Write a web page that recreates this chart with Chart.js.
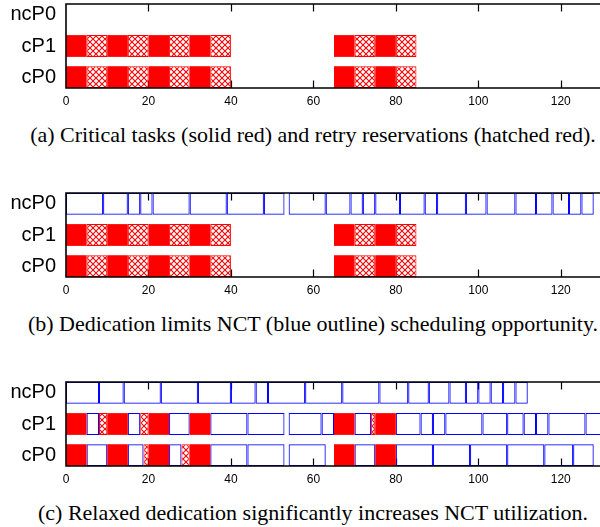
<!DOCTYPE html>
<html>
<head>
<meta charset="utf-8">
<script src="https://cdn.jsdelivr.net/npm/chart.js@4.4.1/dist/chart.umd.min.js"></script>
<style>
  html, body { margin: 0; padding: 0; background: #fff; overflow: hidden; width: 600px; height: 527px; }
  .panel { position: absolute; left: 0; width: 602px; height: 112px; }
  .cap { position: absolute; left: 0; width: 626px; text-align: center; font-family: 'Liberation Serif', 'Times New Roman', serif; font-size: 22px; line-height: 22px; color: #000; white-space: nowrap; }
</style>
</head>
<body>
<div class="panel" style="top:0px"><canvas id="ca"></canvas></div>
<div class="cap" style="top:124px">(a) Critical tasks (solid red) and retry reservations (hatched red).</div>
<div class="panel" style="top:189px"><canvas id="cb"></canvas></div>
<div class="cap" style="top:313px">(b) Dedication limits NCT (blue outline) scheduling opportunity.</div>
<div class="panel" style="top:378px"><canvas id="cc"></canvas></div>
<div class="cap" style="top:502px">(c) Relaxed dedication significantly increases NCT utilization.</div>
<script>
// ---- data ----
const rowNames = ['cP0', 'cP1', 'ncP0'];
const xTicks = [0, 20, 40, 60, 80, 100, 120];
const xMax = 130;

// (a), (b): critical tasks (solid) and retry reservations (hatched), same on cP0 and cP1
const critSolid = [[0,5],[10,15],[20,25],[30,35],[65,70],[75,80]];
const critHatch = [[5,10],[15,20],[25,30],[35,40],[70,75],[80,85]];

// (b): non-critical tasks on ncP0
const bNctNcP0 = [[0,9],[9,15],[15,18],[18,21],[21,30],[30,39],[39,48],[48,53],[54,63],[63,69],[69,72],[72,75],[75,81],[81,87],[87,90],[90,97],[97,102],[102,109],[109,114],[114,118],[118,122],[122,125],[125,128]];

// (c): relaxed dedication
const cSolid = [[0,5],[10,15],[20,25],[30,35],[65,70],[75,80]];
const cHatchP1 = [[8,10],[18,20],[74,75]];
const cHatchP0 = [[18.8,20],[28,30]];
const cNctP1 = [[5,8],[15,18],[25,30],[35,44],[44,53],[54,62],[62,65],[70,74],[80,86],[86,89],[89,92],[92,101],[101,107],[107,111],[111,114],[114,117],[117,126],[126,136]];
const cNctP0 = [[5,10],[15,18.8],[25,28],[35,44],[44,53],[54,63],[70,75],[80,89],[89,98],[98,107],[107,116],[116,123],[123,128]];
const cNctNcP0 = [[0,8],[8,14],[14,23],[23,32],[32,40],[40,46],[46,49],[49,58],[58,67],[67,76],[76,83],[83,88],[88,93],[93,97],[97,100],[100,103],[103,106],[106,109],[109,112]];

// ---- helpers ----
const RED = '#ff0000', BLUE = '#0000ff';
function hatchPattern() {
  const n = 6;
  const p = document.createElement('canvas');
  p.width = n; p.height = n;
  const g = p.getContext('2d');
  g.fillStyle = '#ffffff'; g.fillRect(0, 0, n, n);
  g.strokeStyle = RED; g.lineWidth = 1.1;
  g.beginPath();
  g.moveTo(0, 0); g.lineTo(n, n);
  g.moveTo(n, 0); g.lineTo(0, n);
  g.stroke();
  return g.createPattern(p, 'repeat');
}
const HATCH = hatchPattern();

function toData(intervals, row) {
  return intervals.map(([s, e]) => ({ x: [s, e], y: row }));
}
function solidDS(intervals, row) {
  return { data: toData(intervals, row), backgroundColor: RED, borderWidth: 0 };
}
function hatchDS(intervals, row) {
  return { data: toData(intervals, row), backgroundColor: HATCH, borderColor: RED, borderWidth: 1, borderSkipped: false };
}
function nctDS(intervals, row) {
  return { data: toData(intervals, row), backgroundColor: 'rgba(0,0,0,0)', borderColor: BLUE, borderWidth: 1, borderSkipped: false };
}

const framePlugin = {
  id: 'frame',
  beforeDatasetsDraw(chart) {
    const { ctx, chartArea: a, scales: { x } } = chart;
    ctx.save();
    ctx.strokeStyle = '#000';
    ctx.lineWidth = 1.2;
    xTicks.forEach(v => {
      if (v === 0) return;
      const px = Math.round(x.getPixelForValue(v)) + 0.5;
      ctx.beginPath();
      ctx.moveTo(px, a.bottom); ctx.lineTo(px, a.bottom - 7.5);
      ctx.moveTo(px, a.top); ctx.lineTo(px, a.top + 7.5);
      ctx.stroke();
    });
    ctx.restore();
  },
  afterDatasetsDraw(chart) {
    const { ctx, chartArea: a, width } = chart;
    ctx.save();
    ctx.strokeStyle = '#000';
    ctx.lineWidth = 1.6;
    ctx.beginPath();
    ctx.moveTo(width, a.top); ctx.lineTo(a.left, a.top); ctx.lineTo(a.left, a.bottom); ctx.lineTo(width, a.bottom);
    ctx.stroke();
    ctx.restore();
  }
};

function makeChart(id, datasets) {
  return new Chart(document.getElementById(id), {
    type: 'bar',
    data: { datasets },
    plugins: [framePlugin],
    options: {
      indexAxis: 'y',
      responsive: true,
      maintainAspectRatio: false,
      animation: false,
      events: [],
      layout: { padding: { top: 4, left: 0, right: 0, bottom: 0 } },
      datasets: { bar: { grouped: false, categoryPercentage: 0.7, barPercentage: 1.0 } },
      plugins: { legend: { display: false }, tooltip: { enabled: false }, title: { display: false } },
      scales: {
        x: {
          type: 'linear', min: 0, max: xMax, offset: false,
          grid: { display: false, drawTicks: false },
          border: { display: false },
          afterBuildTicks: s => { s.ticks = xTicks.map(v => ({ value: v })); },
          afterFit: s => { s.height = 24; s.paddingLeft = 0; s.paddingRight = 0; },
          ticks: { padding: 6, color: '#000', maxRotation: 0, autoSkip: false,
                   font: { family: "'Liberation Sans', Arial, sans-serif", size: 12 } }
        },
        y: {
          type: 'linear', min: -0.35, max: 2.35, offset: false,
          grid: { display: false, drawTicks: false, offset: false },
          border: { display: false },
          afterBuildTicks: s => { s.ticks = rowNames.map((_, i) => ({ value: i })); },
          afterFit: s => { s.width = 66; s.paddingTop = 0; s.paddingBottom = 0; },
          ticks: { padding: 10, color: '#000', autoSkip: false,
                   callback: v => rowNames[v],
                   font: { family: "'Liberation Sans', Arial, sans-serif", size: 20 } }
        }
      }
    }
  });
}

makeChart('ca', [
  solidDS(critSolid, 0), hatchDS(critHatch, 0),
  solidDS(critSolid, 1), hatchDS(critHatch, 1)
]);
makeChart('cb', [
  solidDS(critSolid, 0), hatchDS(critHatch, 0),
  solidDS(critSolid, 1), hatchDS(critHatch, 1),
  nctDS(bNctNcP0, 2)
]);
makeChart('cc', [
  solidDS(cSolid, 0), hatchDS(cHatchP0, 0), nctDS(cNctP0, 0),
  solidDS(cSolid, 1), hatchDS(cHatchP1, 1), nctDS(cNctP1, 1),
  nctDS(cNctNcP0, 2)
]);
</script>
</body>
</html>
